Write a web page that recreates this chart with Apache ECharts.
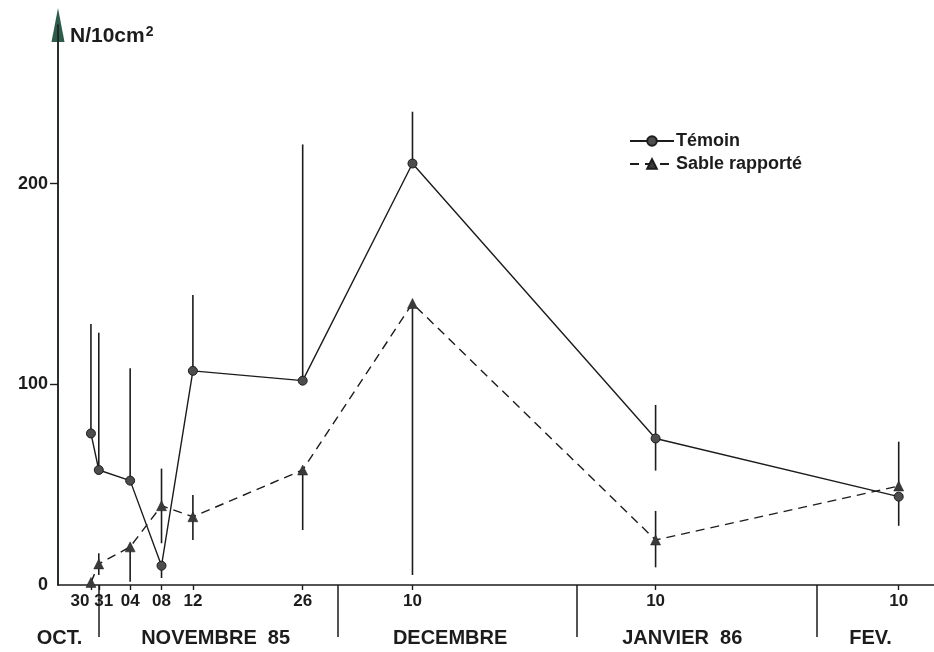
<!DOCTYPE html>
<html>
<head>
<meta charset="utf-8">
<script src="https://cdn.jsdelivr.net/npm/echarts@6/dist/echarts.min.js"></script>
<style>
html,body{margin:0;padding:0;background:#fff;}
#chart{width:934px;height:652px;}
</style>
</head>
<body>
<div id="chart"></div>
<script>
// ---- data ----
const dates = ['1985-10-30','1985-10-31','1985-11-04','1985-11-08','1985-11-12','1985-11-26','1985-12-10','1986-01-10','1986-02-10'];
const tickLabels = ['30','31','04','08','12','26','10','10','10'];
const temoin     = [75.5, 57.3, 52, 9.6, 106.7, 101.8, 210, 73, 44];
const temoinLow  = [75.5, 57.3, 52, 3.5, 106.7, 101.8, 210, 57, 29.5];
const temoinHigh = [130, 125.7, 108, 9.6, 144.5, 219.5, 235.8, 89.7, 44];
const sable      = [1.3, 10.5, 19, 39.5, 34, 57.3, 140.3, 22.4, 49.3];
const sableLow   = [1.3, 5, 1.6, 20.8, 22.4, 27.4, 5, 8.8, 49.3];
const sableHigh  = [1.3, 15.8, 19, 58, 44.8, 57.3, 140.3, 36.9, 71.4];
const monthNames = ['OCT.', 'NOVEMBRE  85', 'DECEMBRE', 'JANVIER  86', 'FEV.'];
const monthLabelDays = [-4, 15.9, 45.8, 75.4, 99.4];   // label centres (days since 30 Oct)
const monthBoundaryDays = [1, 31.5, 62, 92.5];         // separators (days since 30 Oct)
const yTickValues = [0, 100, 200];
const legendNames = ['Témoin', 'Sable rapporté'];

// ---- build ----
const t0 = Date.UTC(1985, 9, 30);
const days = dates.map(d => {
  const [y, m, dd] = d.split('-').map(Number);
  return Math.round((Date.UTC(y, m - 1, dd) - t0) / 86400000);
});
const ink = '#1c1c1c';
const font = "'Liberation Sans', Arial, Helvetica, sans-serif";

const chart = echarts.init(document.getElementById('chart'), null, {renderer: 'canvas'});
const option = {
  animation: false,
  backgroundColor: '#fff',
  grid: {left: 58, right: 0, top: 25, bottom: 67, containLabel: false},
  legend: {
    left: 624, top: 127, orient: 'vertical',
    itemWidth: 44, itemHeight: 12, itemGap: 5,
    data: legendNames,
    textStyle: {fontFamily: font, fontSize: 18, fontWeight: 'bold', color: ink, padding: [0, 0, 0, -3]}
  },
  xAxis: [
    {
      type: 'value', position: 'bottom', min: -4.2, max: 107.5,
      splitLine: {show: false},
      axisLine: {show: true, onZero: false, lineStyle: {color: ink, width: 1.6}},
      axisTick: {show: true, customValues: days, length: 5, lineStyle: {color: ink, width: 1.4}},
      axisLabel: {
        customValues: days, margin: 8, color: ink,
        fontFamily: font, fontSize: 17, fontWeight: 'bold',
        formatter: function (v) {
          const i = days.indexOf(v);
          if (i < 0) return '';
          if (i === 0) return '{l|' + tickLabels[i] + '}';
          if (i === 1) return '{r|' + tickLabels[i] + '}';
          return tickLabels[i];
        },
        rich: {
          l: {fontFamily: font, fontSize: 17, fontWeight: 'bold', color: ink, padding: [0, 22, 0, 0]},
          r: {fontFamily: font, fontSize: 17, fontWeight: 'bold', color: ink, padding: [0, 0, 0, 10]}
        }
      }
    },
    {
      type: 'value', position: 'bottom', min: -4.2, max: 107.5,
      splitLine: {show: false},
      axisLine: {show: false, onZero: false},
      axisTick: {show: true, customValues: monthBoundaryDays, length: 52, lineStyle: {color: ink, width: 1.5}},
      axisLabel: {
        customValues: monthLabelDays, margin: 43, color: ink,
        fontFamily: font, fontSize: 20, fontWeight: 'bold',
        formatter: function (v) {
          const i = monthLabelDays.indexOf(v);
          return i < 0 ? '' : monthNames[i];
        }
      }
    }
  ],
  yAxis: [
    {
      type: 'value', position: 'left', min: 0, max: 279, z: 3,
      name: '{a|N/10cm}{s|2}', nameLocation: 'end', nameGap: -11,
      nameTextStyle: {
        align: 'left', verticalAlign: 'middle', padding: [0, 0, 0, 12],
        rich: {
          a: {fontFamily: font, fontSize: 21, fontWeight: 'bold', color: ink, verticalAlign: 'bottom'},
          s: {fontFamily: font, fontSize: 14, fontWeight: 'bold', color: ink, verticalAlign: 'top', padding: [0, 0, 8, 1]}
        }
      },
      splitLine: {show: false},
      axisLine: {show: true, onZero: false, lineStyle: {color: ink, width: 1.6}},
      axisTick: {show: true, customValues: [100, 200], length: 8, lineStyle: {color: ink, width: 1.4}},
      axisLabel: {customValues: yTickValues, margin: 10, color: ink, fontFamily: font, fontSize: 18, fontWeight: 'bold'}
    },
    {
      type: 'value', position: 'left', min: 0, max: 279, z: 1,
      splitLine: {show: false},
      axisLine: {show: true, onZero: false, symbol: ['none', 'triangle'], symbolSize: [13, 34], lineStyle: {color: '#2e5c4b', width: 1.6}},
      axisTick: {show: false}, axisLabel: {show: false}
    }
  ],
  series: [
    {
      name: 'errTemoin', type: 'custom', xAxisIndex: 0, yAxisIndex: 0, z: 1,
      data: days.map((d, i) => [d, temoinLow[i], temoinHigh[i]]),
      encode: {x: 0, y: [1, 2]},
      renderItem: function (params, api) {
        const a = api.coord([api.value(0), api.value(1)]);
        const b = api.coord([api.value(0), api.value(2)]);
        return {type: 'line', shape: {x1: a[0], y1: a[1], x2: b[0], y2: b[1]}, style: {stroke: ink, lineWidth: 1.6}};
      }
    },
    {
      name: 'errSable', type: 'custom', xAxisIndex: 0, yAxisIndex: 0, z: 1,
      data: days.map((d, i) => [d, sableLow[i], sableHigh[i]]),
      encode: {x: 0, y: [1, 2]},
      renderItem: function (params, api) {
        const a = api.coord([api.value(0), api.value(1)]);
        const b = api.coord([api.value(0), api.value(2)]);
        return {type: 'line', shape: {x1: a[0], y1: a[1], x2: b[0], y2: b[1]}, style: {stroke: ink, lineWidth: 1.6}};
      }
    },
    {
      name: legendNames[0], type: 'line', xAxisIndex: 0, yAxisIndex: 0, z: 3,
      data: days.map((d, i) => [d, temoin[i]]),
      symbol: 'circle', symbolSize: 9, showAllSymbol: true,
      itemStyle: {color: '#4d4d4d', borderColor: ink, borderWidth: 1},
      lineStyle: {color: ink, width: 1.4}
    },
    {
      name: legendNames[1], type: 'line', xAxisIndex: 0, yAxisIndex: 0, z: 3,
      data: days.map((d, i) => [d, sable[i]]),
      symbol: 'triangle', symbolSize: 10, showAllSymbol: true,
      itemStyle: {color: '#3a3a3a', borderColor: ink, borderWidth: 0.5},
      lineStyle: {color: ink, width: 1.4, type: [9, 6]}
    }
  ]
};
chart.setOption(option);
</script>
</body>
</html>
